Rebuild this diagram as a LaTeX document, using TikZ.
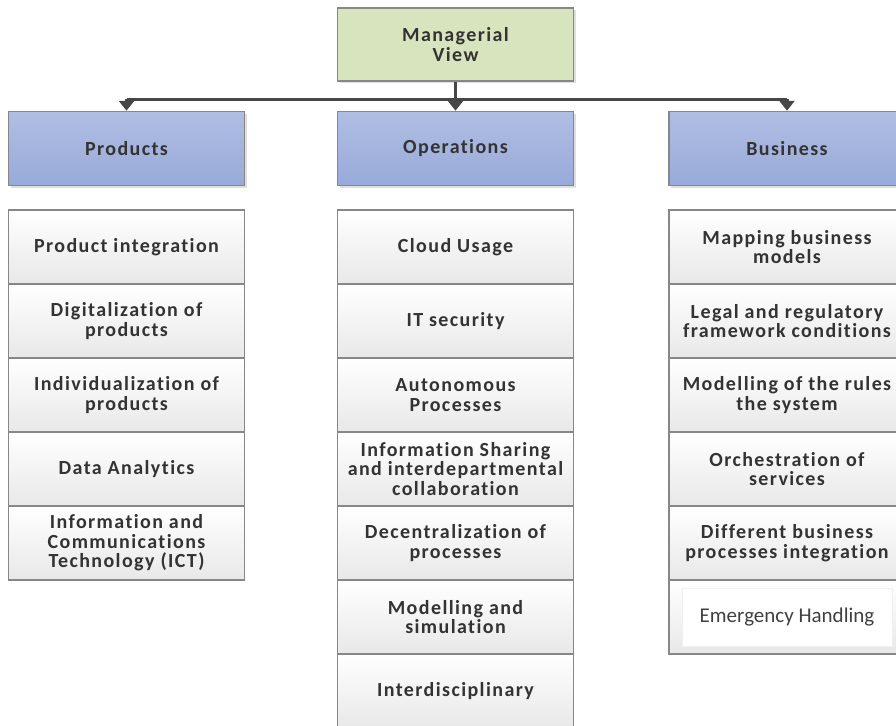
\documentclass[tikz,border=0pt]{standalone}
\usepackage{fontspec}
\setmainfont{Carlito}[Ligatures={NoCommon}]
\newfontfamily\boxfont{Carlito}[Ligatures={NoCommon}, LetterSpace=7]
\usetikzlibrary{arrows.meta,shadows}

\definecolor{viewgreen}{RGB}{216,228,190}
\definecolor{headtop}{RGB}{176,190,228}
\definecolor{headbot}{RGB}{152,170,216}
\definecolor{boxline}{RGB}{135,135,135}
\definecolor{linkgray}{RGB}{70,70,70}

\tikzset{
  box/.style={draw=boxline, line width=1.5pt, rectangle, align=center,
    minimum width=236pt, minimum height=74pt, inner sep=2pt,
    font=\boxfont\bfseries\fontsize{20}{19.5}\selectfont, text=black!80},
  viewbox/.style={box, fill=viewgreen, minimum height=73pt,
    drop shadow={opacity=0.25, shadow xshift=2pt, shadow yshift=-2pt}},
  headbox/.style={box, top color=headtop, bottom color=headbot,
    drop shadow={opacity=0.25, shadow xshift=2pt, shadow yshift=-2pt}},
  itembox/.style={box, top color=white, bottom color=black!9},
  link/.style={linkgray, line width=3pt},
  linkarrow/.style={link, -{Triangle[length=10pt, width=15pt]}}
}

\begin{document}
\begin{tikzpicture}[x=1pt, y=-1pt]
\useasboundingbox (0,0) rectangle (896,725);
\clip (0,0) rectangle (896,725);

% top and column heads
\node[viewbox] (view) at (455.5,44.5) {Managerial\\View};
\node[headbox] (prod) at (126.5,148.5) {Products};
\node[headbox] (ops) at (455.5,148.5) {Operations};
\node[headbox] (bus) at (787,148.5) {Business};

% products
\node[itembox] (p1) at (126.5,247) {Product integration};
\node[itembox] (p2) at (126.5,321) {Digitalization of\\products};
\node[itembox] (p3) at (126.5,395) {Individualization of\\products};
\node[itembox] (p4) at (126.5,469) {Data Analytics};
\node[itembox] (p5) at (126.5,543) {Information and\\Communications\\Technology (ICT)};

% operations
\node[itembox] (o1) at (455.5,247) {Cloud Usage};
\node[itembox] (o2) at (455.5,321) {IT security};
\node[itembox] (o3) at (455.5,395) {Autonomous\\Processes};
\node[itembox] (o4) at (455.5,469) {Information Sharing\\and interdepartmental\\collaboration};
\node[itembox] (o5) at (455.5,543) {Decentralization of\\processes};
\node[itembox] (o6) at (455.5,617) {Modelling and\\simulation};
\node[itembox] (o7) at (455.5,691) {Interdisciplinary};

% business
\node[itembox] (b1) at (787,247) {Mapping business\\models};
\node[itembox] (b2) at (787,321) {Legal and regulatory\\framework conditions};
\node[itembox] (b3) at (787,395) {Modelling of the rules\\the system};
\node[itembox] (b4) at (787,469) {Orchestration of\\services};
\node[itembox] (b5) at (787,543) {Different business\\processes integration};
\node[itembox] (b6) at (787,617) {};
\node[draw=black!6, fill=white, minimum width=210pt, minimum height=58pt,
  font=\fontsize{21}{21}\selectfont, text=black!75] (b6in) at (b6) {Emergency Handling};

% links
\coordinate (bar) at (455.5,99);
\draw[link] (prod.north |- bar) -- (bus.north |- bar);
\draw[linkarrow] (view) -- (ops);
\draw[linkarrow] (prod.north |- bar) -- (prod);
\draw[linkarrow] (bus.north |- bar) -- (bus);

\end{tikzpicture}
\end{document}
